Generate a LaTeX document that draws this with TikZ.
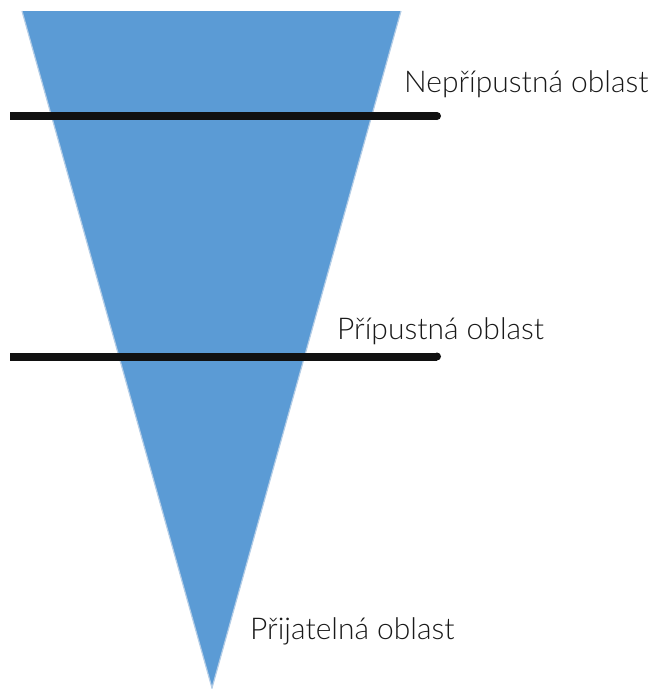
\documentclass[tikz,border=0pt]{standalone}
\usepackage{fontspec}
\setmainfont{Lato}[UprightFont=* Light]
\definecolor{tri}{HTML}{5B9BD5}
\definecolor{triedge}{HTML}{B4CDE6}
\definecolor{barcol}{HTML}{111111}
\tikzset{
  barline/.style={line width=8pt, draw=barcol, line cap=butt},
  lbl/.style={anchor=base west, inner sep=0pt, font=\fontsize{30}{36}\selectfont, text=black!90}
}
\begin{document}
\begin{tikzpicture}[x=1pt,y=-1pt]
\useasboundingbox (0,0) rectangle (652,689);
\fill[tri] (22,11) -- (401,11) -- (212,688) -- cycle;
\draw[triedge, line width=1.2pt] (22,11) -- (212,688) -- (401,11);
% bars
\draw[barline] (10,116) -- (437,116);
\fill[barcol] (437,116) circle (4);
\draw[barline] (10,356.5) -- (437,356.5);
\fill[barcol] (437,356.5) circle (4);
% labels
\node[lbl] (t1) at (404,92) {Nepřípustná oblast};
\node[lbl] (t2) at (337,339) {Přípustná oblast};
\node[lbl] (t3) at (250,639) {Přijatelná oblast};
\end{tikzpicture}
\end{document}
